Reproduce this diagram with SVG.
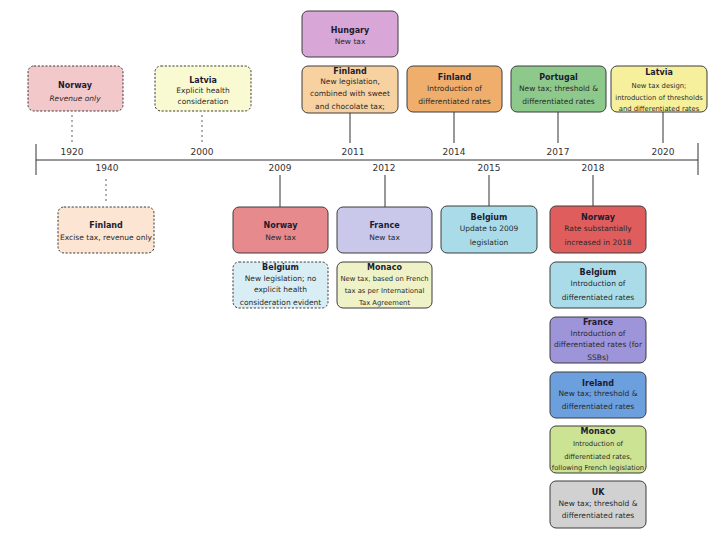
<svg xmlns="http://www.w3.org/2000/svg" width="726" height="542" viewBox="0 0 726 542">
<style>
.box{stroke:#3d3d3d;stroke-width:1}
.dash{stroke-dasharray:2.2 1.6}
.t{font-family:"DejaVu Sans",Verdana,sans-serif;font-size:8px;font-weight:bold;fill:#1c1c30;text-anchor:middle}
.b{font-family:"DejaVu Sans",Verdana,sans-serif;font-size:7.5px;fill:#2a2a2a;text-anchor:middle}
.s{font-size:6.8px}
.y{font-family:"DejaVu Sans",Verdana,sans-serif;font-size:9px;fill:#333;text-anchor:middle}
.ln{stroke:#333;stroke-width:1;fill:none}
.dot{stroke:#444;stroke-width:1.6;stroke-linecap:round;stroke-dasharray:0 5;fill:none}
</style>
<rect width="726" height="542" fill="#ffffff"/>
<g id="connectors">
<line class="ln" x1="36" y1="160" x2="698" y2="160"/>
<line class="ln" x1="36" y1="144" x2="36" y2="175"/>
<line class="ln" x1="698" y1="143" x2="698" y2="175"/>
<line class="dot" x1="72" y1="116" x2="72" y2="144"/>
<line class="dot" x1="202" y1="116" x2="202" y2="144"/>
<line class="dot" x1="106" y1="180" x2="106" y2="205"/>
<line class="ln" x1="350" y1="113" x2="350" y2="143"/>
<line class="ln" x1="454" y1="112" x2="454" y2="143"/>
<line class="ln" x1="558" y1="112" x2="558" y2="143"/>
<line class="ln" x1="663" y1="112" x2="663" y2="143"/>
<line class="ln" x1="280" y1="175" x2="280" y2="207"/>
<line class="ln" x1="385" y1="175" x2="385" y2="207"/>
<line class="ln" x1="489" y1="175" x2="489" y2="206"/>
<line class="ln" x1="593" y1="175" x2="593" y2="206"/>
</g>
<g id="years">
<text class="y" x="72" y="155">1920</text>
<text class="y" x="202" y="155">2000</text>
<text class="y" x="353" y="155">2011</text>
<text class="y" x="454" y="155">2014</text>
<text class="y" x="558" y="155">2017</text>
<text class="y" x="663" y="155">2020</text>
<text class="y" x="107" y="171">1940</text>
<text class="y" x="280" y="171">2009</text>
<text class="y" x="384" y="171">2012</text>
<text class="y" x="489" y="171">2015</text>
<text class="y" x="593" y="171">2018</text>
</g>
<g id="norway1920">
<rect class="box dash" x="28" y="66" width="95" height="45" rx="6" fill="#f2c8cb"/>
<text class="t" x="75" y="88">Norway</text>
<text class="b" x="75" y="101" font-style="italic">Revenue only</text>
</g>
<g id="latvia2000">
<rect class="box dash" x="155" y="66" width="96" height="45" rx="6" fill="#fafad2"/>
<text class="t" x="203" y="83">Latvia</text>
<text class="b" x="203" y="93">Explicit health</text>
<text class="b" x="203" y="104">consideration</text>
</g>
<g id="hungary2011">
<rect class="box" x="302" y="11" width="96" height="46" rx="6" fill="#d9a6d8"/>
<text class="t" x="350" y="33">Hungary</text>
<text class="b" x="350" y="44">New tax</text>
</g>
<g id="finland2011">
<rect class="box" x="302" y="66" width="96" height="47" rx="6" fill="#f8d1a0"/>
<text class="t" x="350" y="74">Finland</text>
<text class="b" x="350" y="84">New legislation,</text>
<text class="b" x="350" y="96">combined with sweet</text>
<text class="b" x="350" y="109">and chocolate tax;</text>
</g>
<g id="finland2014">
<rect class="box" x="407" y="66" width="95" height="46" rx="6" fill="#f0ae6c"/>
<text class="t" x="454.5" y="80">Finland</text>
<text class="b" x="454.5" y="91">Introduction of</text>
<text class="b" x="454.5" y="104">differentiated rates</text>
</g>
<g id="portugal2017">
<rect class="box" x="511" y="66" width="95" height="46" rx="6" fill="#8ec98c"/>
<text class="t" x="558.5" y="80">Portugal</text>
<text class="b" x="558.5" y="91">New tax; threshold &amp;</text>
<text class="b" x="558.5" y="104">differentiated rates</text>
</g>
<g id="latvia2020">
<rect class="box" x="611" y="66" width="96" height="46" rx="6" fill="#f6f09c"/>
<text class="t" x="659" y="75">Latvia</text>
<text class="b s" x="659" y="88">New tax design;</text>
<text class="b s" x="659" y="100">introduction of thresholds</text>
<text class="b s" x="659" y="111">and differentiated rates</text>
</g>
<g id="finland1940">
<rect class="box dash" x="58" y="207" width="96" height="46" rx="6" fill="#fce5d2"/>
<text class="t" x="106" y="228">Finland</text>
<text class="b" x="106" y="240">Excise tax, revenue only</text>
</g>
<g id="norway2009">
<rect class="box" x="233" y="207" width="95" height="46" rx="6" fill="#e68a8d"/>
<text class="t" x="280.5" y="228">Norway</text>
<text class="b" x="280.5" y="240">New tax</text>
</g>
<g id="belgium2009">
<rect class="box dash" x="233" y="262" width="95" height="46" rx="6" fill="#d8eef4"/>
<text class="t" x="280.5" y="270">Belgium</text>
<text class="b" x="280.5" y="281">New legislation; no</text>
<text class="b" x="280.5" y="292">explicit health</text>
<text class="b" x="280.5" y="305">consideration evident</text>
</g>
<g id="france2012">
<rect class="box" x="337" y="207" width="95" height="46" rx="6" fill="#c9c7ea"/>
<text class="t" x="384.5" y="228">France</text>
<text class="b" x="384.5" y="240">New tax</text>
</g>
<g id="monaco2012">
<rect class="box" x="337" y="262" width="95" height="46" rx="6" fill="#eef2c6"/>
<text class="t" x="384.5" y="270">Monaco</text>
<text class="b s" x="384.5" y="281">New tax, based on French</text>
<text class="b s" x="384.5" y="293">tax as per International</text>
<text class="b s" x="384.5" y="305">Tax Agreement</text>
</g>
<g id="belgium2015">
<rect class="box" x="441" y="206" width="96" height="47" rx="6" fill="#a9dce8"/>
<text class="t" x="489" y="220">Belgium</text>
<text class="b" x="489" y="231">Update to 2009</text>
<text class="b" x="489" y="245">legislation</text>
</g>
<g id="norway2018">
<rect class="box" x="550" y="206" width="96" height="47" rx="6" fill="#e05d5e"/>
<text class="t" x="598" y="220">Norway</text>
<text class="b" x="598" y="231">Rate substantially</text>
<text class="b" x="598" y="245">increased in 2018</text>
</g>
<g id="belgium2018">
<rect class="box" x="550" y="262" width="96" height="46" rx="6" fill="#a9dce8"/>
<text class="t" x="598" y="275">Belgium</text>
<text class="b" x="598" y="286">Introduction of</text>
<text class="b" x="598" y="300">differentiated rates</text>
</g>
<g id="france2018">
<rect class="box" x="550" y="317" width="96" height="46" rx="6" fill="#9d94d9"/>
<text class="t" x="598" y="325">France</text>
<text class="b" x="598" y="336">Introduction of</text>
<text class="b" x="598" y="347">differentiated rates (for</text>
<text class="b" x="598" y="360">SSBs)</text>
</g>
<g id="ireland2018">
<rect class="box" x="550" y="372" width="96" height="46" rx="6" fill="#6b9fde"/>
<text class="t" x="598" y="386">Ireland</text>
<text class="b" x="598" y="396">New tax; threshold &amp;</text>
<text class="b" x="598" y="409">differentiated rates</text>
</g>
<g id="monaco2018">
<rect class="box" x="550" y="426" width="96" height="47" rx="6" fill="#cde394"/>
<text class="t" x="598" y="434">Monaco</text>
<text class="b s" x="598" y="446">Introduction of</text>
<text class="b s" x="598" y="459">differentiated rates,</text>
<text class="b s" x="598" y="470">following French legislation</text>
</g>
<g id="uk2018">
<rect class="box" x="550" y="481" width="96" height="47" rx="6" fill="#d1d1d1"/>
<text class="t" x="598" y="495">UK</text>
<text class="b" x="598" y="506">New tax; threshold &amp;</text>
<text class="b" x="598" y="518">differentiated rates</text>
</g>
</svg>
